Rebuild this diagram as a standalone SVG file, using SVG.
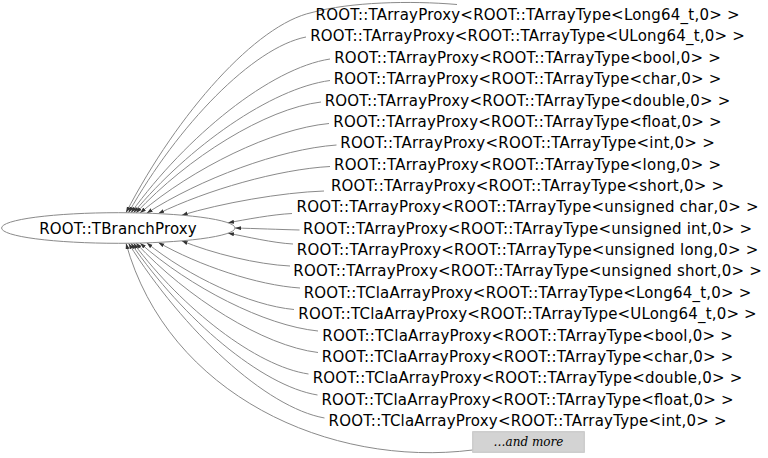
<svg xmlns="http://www.w3.org/2000/svg" width="768" height="458" viewBox="0 0 768 458">
<style>
.lbl{font-family:"DejaVu Sans",sans-serif;font-size:15px;fill:#000;text-anchor:middle}
.e{fill:none;stroke:#8a8a8a;stroke-width:1;marker-end:url(#ah)}
.more{font-family:"DejaVu Serif",serif;font-style:italic;font-size:12px;fill:#000;text-anchor:middle}
</style>
<defs>
<marker id="ah" markerUnits="userSpaceOnUse" markerWidth="8" markerHeight="6" refX="6" refY="2" orient="auto"><path d="M0,0 L6,2 L0,4 z" fill="#333"/></marker>
</defs>
<rect width="768" height="458" fill="#fff"/>
<g id="connectors">
<path class="e" d="M457,4.5 C410,0.5 350,2 312,12.5 C256.2,24.5 178.1,112.6 126,212.7"/>
<path class="e" d="M306,37 C252.8,47.5 178.2,124.9 128.5,212.7"/>
<path class="e" d="M330,59 C270.3,68.2 186.7,135.9 131,212.8"/>
<path class="e" d="M330,80.5 C271.1,88.4 188.5,146.7 133.5,212.8"/>
<path class="e" d="M321,102 C265.5,108.7 187.8,157.5 136,212.9"/>
<path class="e" d="M329,123.5 C272.3,128.9 192.9,168.3 140,213"/>
<path class="e" d="M336.5,145 C279.6,149.1 199.8,179.1 146.7,213.2"/>
<path class="e" d="M330,166.5 C278.5,169.3 206.4,190.1 158.3,213.6"/>
<path class="e" d="M324,191 C281.3,192.5 221.5,203.1 181.7,215.2"/>
<path class="e" d="M292,213.5 C272,214.5 246,219.5 228,222.8"/>
<path class="e" d="M299.5,230 C280,229.5 255,228.5 235,228"/>
<path class="e" d="M293,244 C273,243 246,236.5 228,233.2"/>
<path class="e" d="M290,266 C257.5,264.5 212,253.4 181.7,240.8"/>
<path class="e" d="M300,288 C257.5,285.3 198,265.2 158.3,242.4"/>
<path class="e" d="M294,309.5 C249.8,305.5 188,276.2 146.7,242.8"/>
<path class="e" d="M318,331 C264.6,325.7 189.8,287 140,243"/>
<path class="e" d="M318,352.5 C263.4,345.9 187,297.8 136,243.1"/>
<path class="e" d="M308.5,374 C256,366.2 182.5,308.6 133.5,243.2"/>
<path class="e" d="M317.5,395 C261.6,385.9 183.2,319.1 131,243.2"/>
<path class="e" d="M324.5,418 C265.7,407.5 183.4,330.7 128.5,243.3"/>
<path class="e" d="M472.7,450 C330,468 168,395 126,243.3"/>
</g>
<g id="node-TBranchProxy">
<ellipse cx="118.3" cy="228" rx="116.7" ry="15.3" fill="#fff" stroke="#8a8a8a" stroke-width="1"/>
<text class="lbl" x="118" y="234" textLength="157.5" lengthAdjust="spacing">ROOT::TBranchProxy</text>
</g>
<g id="node-1"><text class="lbl" x="527.5" y="20" textLength="424" lengthAdjust="spacing">ROOT::TArrayProxy&lt;ROOT::TArrayType&lt;Long64_t,0&gt; &gt;</text></g>
<g id="node-2"><text class="lbl" x="527.5" y="41.4" textLength="434.6" lengthAdjust="spacing">ROOT::TArrayProxy&lt;ROOT::TArrayType&lt;ULong64_t,0&gt; &gt;</text></g>
<g id="node-3"><text class="lbl" x="527.5" y="62.7" textLength="386.6" lengthAdjust="spacing">ROOT::TArrayProxy&lt;ROOT::TArrayType&lt;bool,0&gt; &gt;</text></g>
<g id="node-4"><text class="lbl" x="527.5" y="84.1" textLength="387.7" lengthAdjust="spacing">ROOT::TArrayProxy&lt;ROOT::TArrayType&lt;char,0&gt; &gt;</text></g>
<g id="node-5"><text class="lbl" x="527.5" y="105.5" textLength="405.7" lengthAdjust="spacing">ROOT::TArrayProxy&lt;ROOT::TArrayType&lt;double,0&gt; &gt;</text></g>
<g id="node-6"><text class="lbl" x="527.5" y="126.9" textLength="388.3" lengthAdjust="spacing">ROOT::TArrayProxy&lt;ROOT::TArrayType&lt;float,0&gt; &gt;</text></g>
<g id="node-7"><text class="lbl" x="527.5" y="148.2" textLength="374.5" lengthAdjust="spacing">ROOT::TArrayProxy&lt;ROOT::TArrayType&lt;int,0&gt; &gt;</text></g>
<g id="node-8"><text class="lbl" x="527.5" y="169.6" textLength="387" lengthAdjust="spacing">ROOT::TArrayProxy&lt;ROOT::TArrayType&lt;long,0&gt; &gt;</text></g>
<g id="node-9"><text class="lbl" x="527.5" y="191" textLength="393.1" lengthAdjust="spacing">ROOT::TArrayProxy&lt;ROOT::TArrayType&lt;short,0&gt; &gt;</text></g>
<g id="node-10"><text class="lbl" x="527.5" y="212.3" textLength="462" lengthAdjust="spacing">ROOT::TArrayProxy&lt;ROOT::TArrayType&lt;unsigned char,0&gt; &gt;</text></g>
<g id="node-11"><text class="lbl" x="527.5" y="233.7" textLength="449" lengthAdjust="spacing">ROOT::TArrayProxy&lt;ROOT::TArrayType&lt;unsigned int,0&gt; &gt;</text></g>
<g id="node-12"><text class="lbl" x="527.5" y="255.1" textLength="461.5" lengthAdjust="spacing">ROOT::TArrayProxy&lt;ROOT::TArrayType&lt;unsigned long,0&gt; &gt;</text></g>
<g id="node-13"><text class="lbl" x="527.5" y="276.4" textLength="468.5" lengthAdjust="spacing">ROOT::TArrayProxy&lt;ROOT::TArrayType&lt;unsigned short,0&gt; &gt;</text></g>
<g id="node-14"><text class="lbl" x="527.5" y="297.8" textLength="447.5" lengthAdjust="spacing">ROOT::TClaArrayProxy&lt;ROOT::TArrayType&lt;Long64_t,0&gt; &gt;</text></g>
<g id="node-15"><text class="lbl" x="527.5" y="319.2" textLength="458.4" lengthAdjust="spacing">ROOT::TClaArrayProxy&lt;ROOT::TArrayType&lt;ULong64_t,0&gt; &gt;</text></g>
<g id="node-16"><text class="lbl" x="527.5" y="340.6" textLength="410.5" lengthAdjust="spacing">ROOT::TClaArrayProxy&lt;ROOT::TArrayType&lt;bool,0&gt; &gt;</text></g>
<g id="node-17"><text class="lbl" x="527.5" y="361.9" textLength="411.5" lengthAdjust="spacing">ROOT::TClaArrayProxy&lt;ROOT::TArrayType&lt;char,0&gt; &gt;</text></g>
<g id="node-18"><text class="lbl" x="527.5" y="383.3" textLength="429.6" lengthAdjust="spacing">ROOT::TClaArrayProxy&lt;ROOT::TArrayType&lt;double,0&gt; &gt;</text></g>
<g id="node-19"><text class="lbl" x="527.5" y="404.7" textLength="412.1" lengthAdjust="spacing">ROOT::TClaArrayProxy&lt;ROOT::TArrayType&lt;float,0&gt; &gt;</text></g>
<g id="node-20"><text class="lbl" x="527.5" y="426" textLength="398" lengthAdjust="spacing">ROOT::TClaArrayProxy&lt;ROOT::TArrayType&lt;int,0&gt; &gt;</text></g>
<g id="node-more">
<rect x="472.7" y="431.7" width="111.6" height="20.6" fill="#d3d3d3" stroke="#c4c4c4" stroke-width="1"/>
<text class="more" x="528.5" y="445.5">…and more</text>
</g>
</svg>
